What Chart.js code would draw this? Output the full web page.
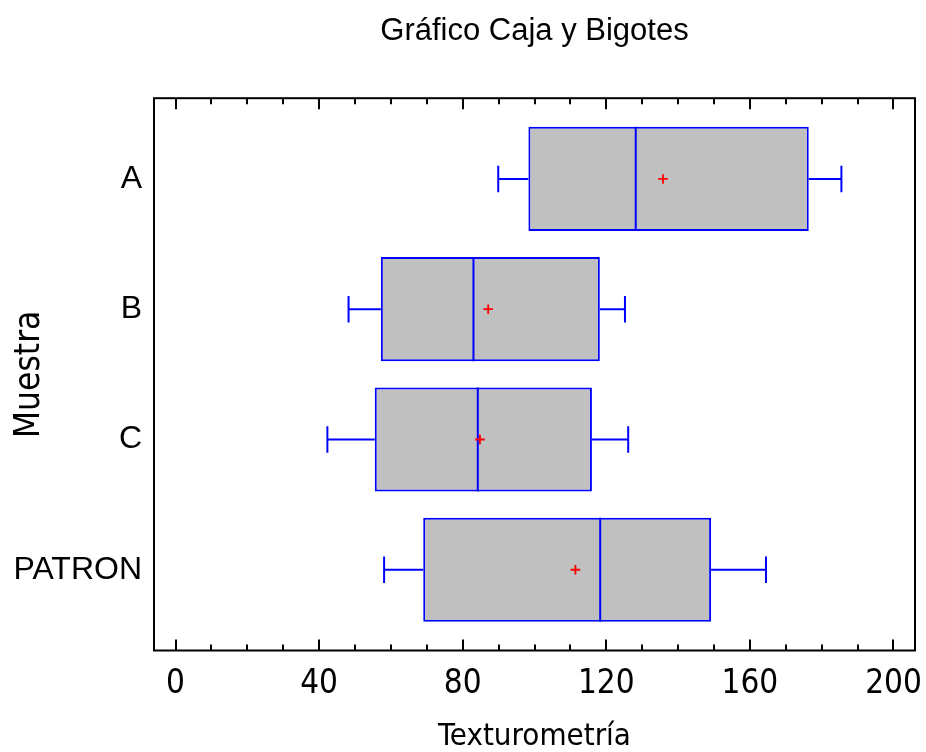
<!DOCTYPE html>
<html>
<head>
<meta charset="utf-8">
<script src="https://cdn.jsdelivr.net/npm/chart.js@4.4.1/dist/chart.umd.min.js"></script>
<style>
  html, body { margin: 0; padding: 0; background: #ffffff; }
  #wrap { width: 926px; height: 752px; }
</style>
</head>
<body>
<div id="wrap"><canvas id="c" width="926" height="752"></canvas></div>
<script>
// ---- data ----
const categories   = ['A', 'B', 'C', 'PATRON'];
const minValues    = [89.9, 48.2, 42.3, 58.1];
const q1Values     = [98.3, 57.2, 55.5, 69.0];
const medianValues = [128.2, 83.0, 84.2, 118.3];
const q3Values     = [176.4, 118.2, 116.0, 149.2];
const maxValues    = [185.5, 125.2, 126.1, 164.5];
const meanValues   = [135.8, 87.1, 84.8, 111.4];
const xTickValues  = [0, 40, 80, 120, 160, 200];
const xMinorStep   = 10;

// ---- drawing parameters ----
const CAP_HALF = 0.102;   // half height of whisker caps (category units)
const BOX_HALF = 0.4;     // half height of the box (category units)
const NARROW = '"Liberation Sans Narrow", "Arial Narrow", "DejaVu Sans Condensed", sans-serif';
const REGULAR = '"Liberation Sans", Arial, sans-serif';

const boxData = categories.map((c, i) => ({ x: [q1Values[i], q3Values[i]], y: i }));

const whiskerData = [];
categories.forEach((c, i) => {
  whiskerData.push({ x: minValues[i], y: i }, { x: q1Values[i], y: i }, { x: q1Values[i], y: null });
  whiskerData.push({ x: q3Values[i], y: i }, { x: maxValues[i], y: i }, { x: maxValues[i], y: null });
  whiskerData.push({ x: minValues[i], y: i - CAP_HALF }, { x: minValues[i], y: i + CAP_HALF }, { x: minValues[i], y: null });
  whiskerData.push({ x: maxValues[i], y: i - CAP_HALF }, { x: maxValues[i], y: i + CAP_HALF }, { x: maxValues[i], y: null });
});

const medianData = [];
categories.forEach((c, i) => {
  medianData.push({ x: medianValues[i], y: i - BOX_HALF }, { x: medianValues[i], y: i + BOX_HALF }, { x: medianValues[i], y: null });
});

const meanData = categories.map((c, i) => ({ x: meanValues[i], y: i }));

const frameAndTicks = {
  id: 'frameAndTicks',
  afterDraw(chart) {
    const { ctx, chartArea: { left, right, top, bottom }, scales: { x } } = chart;
    ctx.save();
    ctx.strokeStyle = '#000000';
    ctx.lineWidth = 2;
    ctx.strokeRect(left, top, right - left, bottom - top);
    const first = xTickValues[0], last = xTickValues[xTickValues.length - 1];
    for (let v = first; v <= last + 1e-9; v += xMinorStep) {
      const px = Math.round(x.getPixelForValue(v));
      const major = xTickValues.includes(v);
      const len = major ? 11 : 6;
      ctx.beginPath();
      ctx.moveTo(px, bottom); ctx.lineTo(px, bottom - len);
      ctx.moveTo(px, top); ctx.lineTo(px, top + len);
      ctx.stroke();
    }
    ctx.restore();
  }
};

new Chart(document.getElementById('c'), {
  type: 'bar',
  data: {
    datasets: [
      {
        type: 'scatter',
        label: 'Media',
        data: meanData,
        pointStyle: 'cross',
        pointRadius: 4.8,
        pointBorderWidth: 1.8,
        borderColor: '#ff0000',
        backgroundColor: '#ff0000',
        order: 0
      },
      {
        type: 'line',
        label: 'Mediana',
        indexAxis: 'x',
        data: medianData,
        borderColor: '#0000ff',
        borderWidth: 2,
        pointRadius: 0,
        fill: false,
        tension: 0,
        spanGaps: false,
        order: 1
      },
      {
        type: 'line',
        label: 'Bigotes',
        indexAxis: 'x',
        data: whiskerData,
        borderColor: '#0000ff',
        borderWidth: 2,
        pointRadius: 0,
        fill: false,
        tension: 0,
        spanGaps: false,
        order: 2
      },
      {
        type: 'bar',
        label: 'Caja',
        indexAxis: 'y',
        data: boxData,
        backgroundColor: '#c0c0c0',
        borderColor: '#0000ff',
        borderWidth: 2,
        borderSkipped: false,
        categoryPercentage: 0.8,
        barPercentage: 1.0,
        order: 3
      }
    ]
  },
  options: {
    responsive: false,
    animation: false,
    devicePixelRatio: 1,
    layout: { padding: { left: 0, right: 11, top: 0, bottom: 0 } },
    plugins: {
      legend: { display: false },
      tooltip: { enabled: false },
      title: {
        display: true,
        text: 'Gráfico Caja y Bigotes',
        color: '#000000',
        fullSize: false,
        font: { family: REGULAR, size: 31, weight: 'normal', lineHeight: 1.2 },
        padding: { top: 13, bottom: 48 }
      }
    },
    scales: {
      x: {
        type: 'linear',
        position: 'bottom',
        offset: false,
        grace: 0,
        beginAtZero: false,
        min: -6,
        max: 206,
        afterBuildTicks: (scale) => { scale.ticks = xTickValues.map(v => ({ value: v })); },
        afterFit: (scale) => {
          scale.height = 101.5;
          scale.paddingLeft = 0;
          scale.paddingRight = 0;
        },
        grid: { display: false, drawTicks: false, offset: false },
        border: { display: false },
        ticks: {
          color: '#000000',
          font: { family: NARROW, size: 33 },
          padding: 14,
          maxRotation: 0,
          autoSkip: false
        },
        title: {
          display: true,
          text: 'Texturometría',
          color: '#000000',
          font: { family: NARROW, size: 31, lineHeight: 1.0 },
          padding: { top: 0, bottom: 0 }
        }
      },
      y: {
        type: 'linear',
        position: 'left',
        offset: false,
        grace: 0,
        beginAtZero: false,
        min: -0.62,
        max: 3.62,
        reverse: true,
        afterBuildTicks: (scale) => { scale.ticks = categories.map((c, i) => ({ value: i })); },
        afterFit: (scale) => {
          scale.width = 154;
          scale.paddingTop = 0;
          scale.paddingBottom = 0;
        },
        grid: { display: false, drawTicks: false, offset: false },
        border: { display: false },
        ticks: {
          color: '#000000',
          font: { family: REGULAR, size: 32 },
          padding: 12,
          autoSkip: false,
          callback: (v) => categories[v]
        },
        title: {
          display: true,
          text: 'Muestra',
          color: '#000000',
          font: { family: NARROW, size: 35, lineHeight: 1.2 },
          padding: { top: 9, bottom: 0 }
        }
      }
    }
  },
  plugins: [frameAndTicks]
});
</script>
</body>
</html>
